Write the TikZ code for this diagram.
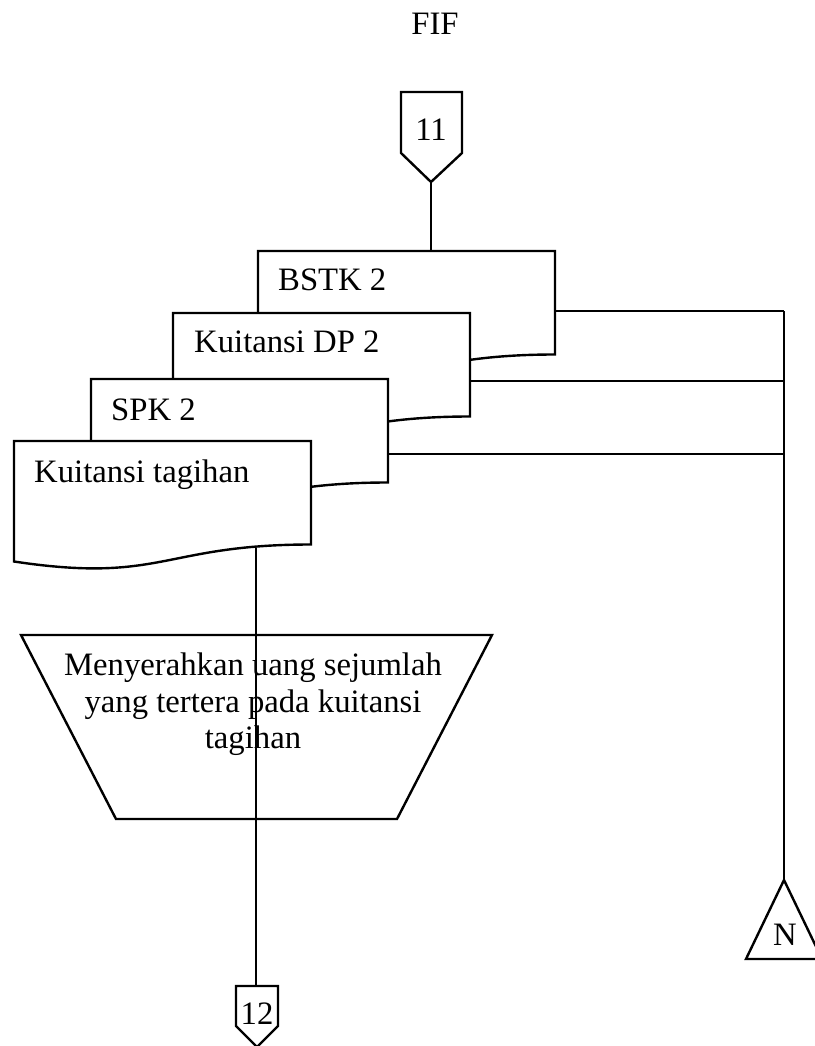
\documentclass[tikz,border=0pt]{standalone}
\usepackage{fontspec}
\setmainfont{Liberation Serif}
\begin{document}
\begin{tikzpicture}[x=1pt,y=-1pt,
  outline/.style={draw=black, line width=2.4pt, fill=white, line join=miter},
  link/.style={draw=black, line width=1.2pt},
  txt/.style={font=\fontsize{32.7}{37.6}\selectfont, inner sep=0pt, anchor=base},
  docpage/.pic={
    \path[outline] (0,0) -- (297,0) -- (297,103.5)
      .. controls (148.5,103.5) and (148.5,142.9) .. (0,120.5) -- cycle;
  }]
\useasboundingbox (0,0) rectangle (814,1046);
\fill[white] (0,0) rectangle (814,1046);

% title
\node[txt] (title) at (435,35) {FIF};

% off-page connector 11
\path[outline] (401,92) -- (462,92) -- (462,153) -- (431,182) -- (401,153) -- cycle;
\node[txt] (n11) at (431,140) {11};
\coordinate (c11) at (431,182);

% stacked documents
\pic at (258,251) {docpage};
\node[txt, anchor=base west] (bstk) at (278,290) {BSTK 2};
\pic at (173,313) {docpage};
\node[txt, anchor=base west] (dp) at (194,352) {Kuitansi DP 2};
\pic at (91,379) {docpage};
\node[txt, anchor=base west] (spk) at (111,420) {SPK 2};
\pic at (14,441) {docpage};
\node[txt, anchor=base west] (kt) at (34,482) {Kuitansi tagihan};

\coordinate (bstkTop) at (431,251);
\coordinate (bstkR) at (555,311);
\coordinate (dpR) at (470,381);
\coordinate (spkR) at (388,454);
\coordinate (ktB) at (256,548);

% manual operation
\path[outline] (21,635) -- (492,635) -- (397,819) -- (116,819) -- cycle;
\node[txt] (op1) at (253,675) {Menyerahkan uang sejumlah};
\node[txt] (op2) at (253,712) {yang tertera pada kuitansi};
\node[txt] (op3) at (253,748) {tagihan};

% file symbol N
\path[outline] (784,880) -- (822,959) -- (746,959) -- cycle;
\node[txt] (nfile) at (785,945) {N};
\coordinate (nTop) at (784,880);

% off-page connector 12
\path[outline] (236,986) -- (278,986) -- (278,1026) -- (257,1047) -- (236,1026) -- cycle;
\node[txt] (n12) at (257,1024) {12};
\coordinate (c12) at (256,986);

% connectors
\draw[link] (c11) -- (bstkTop);
\coordinate (j1) at (784,311);
\coordinate (j2) at (784,381);
\coordinate (j3) at (784,454);
\draw[link] (bstkR) -- (j1);
\draw[link] (dpR) -- (j2);
\draw[link] (spkR) -- (j3);
\draw[link] (j1) -- (nTop);
\draw[link] (ktB) -- (c12);
\end{tikzpicture}
\end{document}
